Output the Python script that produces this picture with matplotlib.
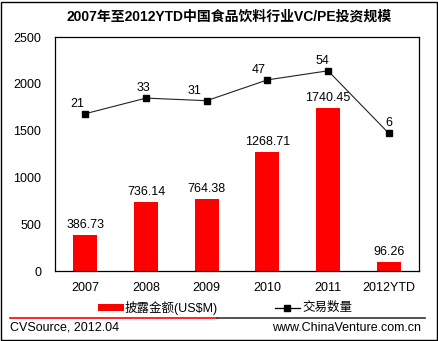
import matplotlib
matplotlib.use("Agg")
import matplotlib.pyplot as plt
from matplotlib.patches import Rectangle
from matplotlib.lines import Line2D
import numpy as np

plt.rcParams['font.family'] = ['Liberation Sans', 'Noto Sans CJK SC', 'DejaVu Sans']

categories = ['2007', '2008', '2009', '2010', '2011', '2012YTD']
amounts = [386.73, 736.14, 764.38, 1268.71, 1740.45, 96.26]
deals = [21, 33, 31, 47, 54, 6]
amount_labels = ['386.73', '736.14', '764.38', '1268.71', '1740.45', '96.26']
y_ticks = [0, 500, 1000, 1500, 2000, 2500]

# horizontal nudges (points) of the deal-count labels, as placed in the original
deal_label_dx = [-6, -2, -9, -6, -4, 0]

W, H = 439, 341
FS = 9
fig = plt.figure(figsize=(W / 100, H / 100), dpi=100)

# outer border
fig.add_artist(Rectangle((1.5 / W, 1.5 / H), (W - 3) / W, (H - 3) / H, transform=fig.transFigure,
                         fill=False, edgecolor='black', linewidth=1.0))

ax = fig.add_axes([55 / W, (H - 271) / H, (419 - 55) / W, (271 - 37) / H])
x = np.arange(len(categories))
ax.bar(x, amounts, width=0.4, color='#FF0000', zorder=2)
ax.set_xlim(-0.5, len(categories) - 0.5)
ax.set_ylim(0, 2500)
ax.set_yticks(y_ticks)
ax.set_xticks(x)
ax.set_xticklabels(categories, fontsize=FS)
ax.tick_params(axis='both', length=0, labelsize=FS)
ax.tick_params(axis='y', pad=10)
ax.tick_params(axis='x', pad=8)
for s in ax.spines.values():
    s.set_linewidth(0.9)
    s.set_color('black')
for xi, v, lab in zip(x, amounts, amount_labels):
    ax.annotate(lab, (xi, v), xytext=(0, 3), textcoords='offset points',
                ha='center', va='bottom', fontsize=FS)

ax2 = ax.twinx()
ax2.plot(x, deals, color='#222222', linewidth=0.8, marker='s', markersize=4,
         markerfacecolor='black', markeredgecolor='black', zorder=3)
ax2.set_ylim(-100, 80)
ax2.set_yticks([])
for s in ax2.spines.values():
    s.set_visible(False)
for xi, v, dx in zip(x, deals, deal_label_dx):
    ax2.annotate(str(v), (xi, v), xytext=(dx, 3), textcoords='offset points',
                 ha='center', va='bottom', fontsize=FS)

fig.text(229 / W, 1 - 17 / H, '2007年至2012YTD中国食品饮料行业VC/PE投资规模',
         ha='center', va='center', fontsize=10, fontweight='bold',
         family=['Liberation Sans', 'Noto Sans CJK SC'])

# legend
fig.add_artist(Rectangle((98 / W, 1 - 311 / H), 26 / W, 7 / H, transform=fig.transFigure,
                         facecolor='#FF0000', edgecolor='none'))
fig.text(125 / W, 1 - 307.5 / H, '披露金额(US$M)', ha='left', va='center', fontsize=FS)
fig.add_artist(Line2D([275 / W, 300 / W], [1 - 307.5 / H, 1 - 307.5 / H], transform=fig.transFigure,
                      color='black', linewidth=0.9))
fig.add_artist(Line2D([287.5 / W], [1 - 307.5 / H], transform=fig.transFigure,
                      color='black', marker='s', markersize=4, linestyle='none'))
fig.text(302 / W, 1 - 307.5 / H, '交易数量', ha='left', va='center', fontsize=FS)

# separator line
fig.add_artist(Line2D([10 / W, 217 / W], [1 - 318 / H] * 2, transform=fig.transFigure,
                      color='#FF0000', linewidth=1.2))
fig.add_artist(Line2D([217 / W, 425 / W], [1 - 318 / H] * 2, transform=fig.transFigure,
                      color='#333333', linewidth=1.2))

fig.text(10 / W, 1 - 328 / H, 'CVSource, 2012.04', ha='left', va='center', fontsize=FS)
fig.text(421 / W, 1 - 328 / H, 'www.ChinaVenture.com.cn', ha='right', va='center', fontsize=FS)

fig.savefig('out.png', dpi=100)
